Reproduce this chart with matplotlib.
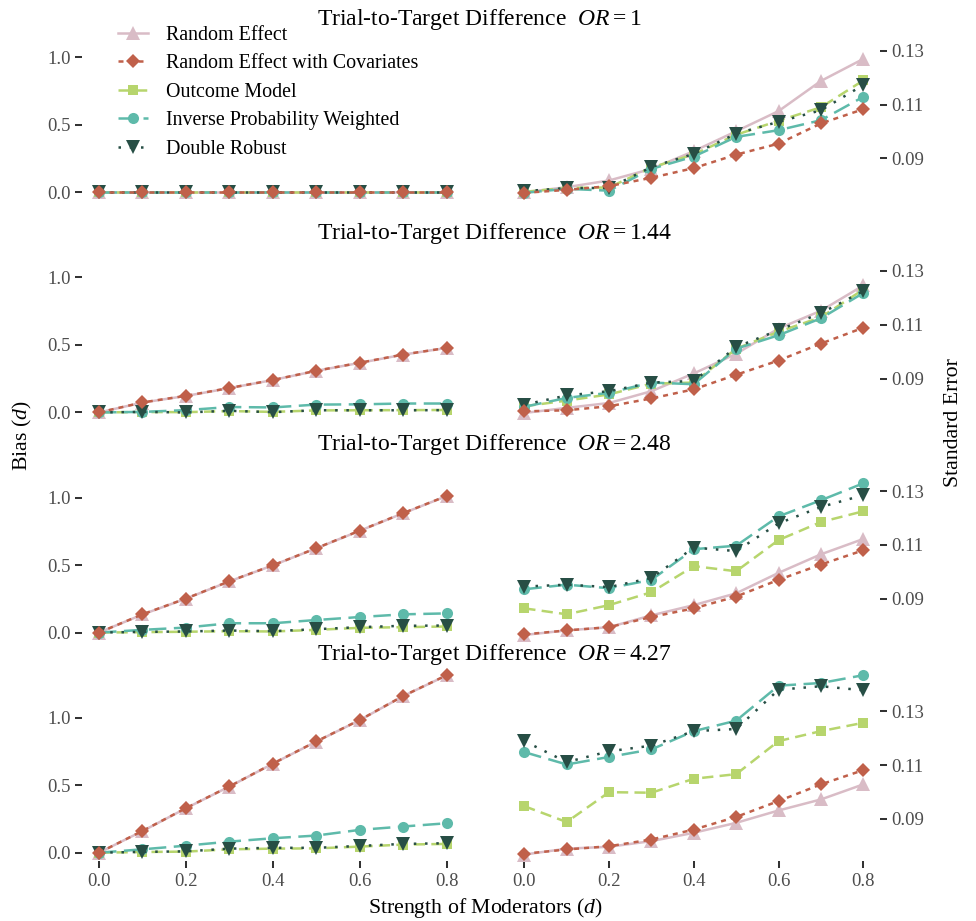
import matplotlib
matplotlib.use('Agg')
import matplotlib.pyplot as plt
import numpy as np

plt.rcParams['font.family'] = ['Liberation Serif', 'DejaVu Serif']
plt.rcParams['mathtext.fontset'] = 'custom'
plt.rcParams['mathtext.rm'] = 'Liberation Serif'
plt.rcParams['mathtext.it'] = 'Liberation Serif:italic'

# moderator strength on the x axis
d = [0.0, 0.1, 0.2, 0.3, 0.4, 0.5, 0.6, 0.7, 0.8]
or_values = ['1', '1.44', '2.48', '4.27']
methods = ['Random Effect', 'Random Effect with Covariates', 'Outcome Model',
           'Inverse Probability Weighted', 'Double Robust']

# bias, one row per trial-to-target OR
bias_re = [[0.0, 0.0, 0.0, 0.0, 0.0, 0.0, 0.0, 0.0, 0.0],
           [0.0, 0.073, 0.122, 0.180, 0.240, 0.308, 0.367, 0.428, 0.478],
           [0.0, 0.134, 0.251, 0.379, 0.498, 0.624, 0.754, 0.884, 1.011],
           [0.0, 0.160, 0.329, 0.490, 0.659, 0.823, 0.982, 1.160, 1.314]]
bias_cov = [[0.0, 0.0, 0.0, 0.0, 0.0, 0.0, 0.0, 0.0, 0.0],
            [0.0, 0.074, 0.123, 0.181, 0.240, 0.309, 0.368, 0.429, 0.478],
            [0.0, 0.135, 0.252, 0.380, 0.498, 0.625, 0.755, 0.885, 1.012],
            [0.0, 0.161, 0.330, 0.491, 0.660, 0.824, 0.983, 1.161, 1.315]]
bias_om = [[0.0, 0.0, 0.0, 0.0, 0.0, 0.0, 0.0, 0.0, 0.0],
           [0.0, 0.003, 0.002, 0.010, 0.004, 0.015, 0.016, 0.017, 0.018],
           [0.0, 0.003, 0.006, 0.010, 0.008, 0.020, 0.035, 0.040, 0.045],
           [0.0, 0.005, 0.008, 0.025, 0.030, 0.032, 0.045, 0.060, 0.065]]
bias_ipw = [[0.0, 0.0, 0.0, 0.0, 0.0, 0.0, 0.0, 0.0, 0.0],
            [0.0, 0.004, 0.017, 0.040, 0.037, 0.058, 0.060, 0.066, 0.066],
            [0.0, 0.020, 0.037, 0.069, 0.069, 0.093, 0.115, 0.135, 0.142],
            [0.0, 0.025, 0.052, 0.082, 0.107, 0.127, 0.169, 0.194, 0.218]]
bias_dr = [[0.0, 0.0, 0.0, 0.0, 0.0, 0.0, 0.0, 0.0, 0.0],
           [0.0, 0.004, 0.0, 0.012, 0.002, 0.016, 0.016, 0.016, 0.017],
           [0.0, 0.005, 0.008, 0.015, 0.010, 0.025, 0.040, 0.050, 0.052],
           [0.0, 0.006, 0.010, 0.030, 0.036, 0.036, 0.050, 0.065, 0.070]]

# standard error, one row per trial-to-target OR
se_re = [[0.0774, 0.0793, 0.0818, 0.0861, 0.0927, 0.1001, 0.1076, 0.1188, 0.1270],
         [0.0772, 0.0791, 0.0809, 0.0853, 0.0919, 0.0992, 0.1086, 0.1152, 0.1246],
         [0.0765, 0.0782, 0.0794, 0.0838, 0.0876, 0.0920, 0.0996, 0.1065, 0.1122],
         [0.0767, 0.0789, 0.0796, 0.0817, 0.0848, 0.0885, 0.0931, 0.0972, 0.1028]]
se_cov = [[0.0772, 0.0783, 0.0797, 0.0828, 0.0864, 0.0914, 0.0955, 0.1030, 0.1083],
          [0.0778, 0.0782, 0.0797, 0.0826, 0.0860, 0.0914, 0.0967, 0.1030, 0.1089],
          [0.0767, 0.0782, 0.0794, 0.0832, 0.0864, 0.0908, 0.0970, 0.1027, 0.1080],
          [0.0770, 0.0786, 0.0798, 0.0823, 0.0860, 0.0907, 0.0966, 0.1028, 0.1081]]
se_om = [[0.0776, 0.0790, 0.0792, 0.0866, 0.0915, 0.0988, 0.1040, 0.1090, 0.1190],
         [0.0797, 0.0818, 0.0841, 0.0881, 0.0885, 0.1011, 0.1074, 0.1128, 0.1231],
         [0.0864, 0.0842, 0.0876, 0.0924, 0.1021, 0.1002, 0.1118, 0.1185, 0.1225],
         [0.0947, 0.0888, 0.0999, 0.0997, 0.1049, 0.1066, 0.1189, 0.1226, 0.1257]]
se_ipw = [[0.0772, 0.0787, 0.0780, 0.0861, 0.0907, 0.0980, 0.1005, 0.1042, 0.1129],
          [0.0795, 0.0828, 0.0847, 0.0885, 0.0879, 0.1011, 0.1061, 0.1124, 0.1218],
          [0.0935, 0.0952, 0.0939, 0.0970, 0.1084, 0.1097, 0.1206, 0.1266, 0.1329],
          [0.1148, 0.1102, 0.1130, 0.1158, 0.1226, 0.1265, 0.1395, 0.1405, 0.1434]]
se_dr = [[0.0778, 0.0790, 0.0790, 0.0868, 0.0917, 0.0992, 0.1036, 0.1079, 0.1173],
         [0.0803, 0.0837, 0.0853, 0.0885, 0.0891, 0.1017, 0.1080, 0.1143, 0.1225],
         [0.0945, 0.0952, 0.0943, 0.0977, 0.1090, 0.1077, 0.1180, 0.1241, 0.1285],
         [0.1189, 0.1111, 0.1151, 0.1172, 0.1226, 0.1234, 0.1380, 0.1393, 0.1378]]

colors = ['#D9BCC6', '#C0604A', '#B7D56D', '#5EBAAA', '#274E45']
markers = ['^', 'D', 's', 'o', 'v']
msizes = [10, 7, 7, 8, 10]
styles = ['-', (0, (2, 2)), (0, (4.5, 2.5)), (0, (7, 3)), (0, (1, 3.5))]
zorders = [2, 6, 3, 4, 5]

bias_all = [bias_re, bias_cov, bias_om, bias_ipw, bias_dr]
se_all = [se_re, se_cov, se_om, se_ipw, se_dr]

# SE axis is a linear rescale of the bias axis
se0, se_k = 0.0774, 0.0502
blim = (-0.065, 1.38)

W, H = 976, 921
fig = plt.figure(figsize=(W / 100, H / 100), dpi=100)

row_gap = 220.13
zero_px = 192.3
px_per = 135.0
top_px = zero_px - blim[1] * px_per
bot_px = zero_px - blim[0] * px_per
title_y = [20, 233.7, 444.7, 654.7]

tick_kw = dict(length=5, width=1.45, color='#333333', labelcolor='#4D4D4D',
               labelsize=13.5, pad=3)

handles = []
for r in range(4):
    b = (bot_px + r * row_gap)
    ax_l = fig.add_axes([81.6 / W, 1 - b / H, (464.1 - 81.6) / W, (bot_px - top_px) / H])
    ax_r = fig.add_axes([507.35 / W, 1 - b / H, (880.25 - 507.35) / W, (bot_px - top_px) / H])

    for m in range(5):
        kw = dict(color=colors[m], marker=markers[m], ms=msizes[m], lw=1.8,
                  linestyle=styles[m], zorder=zorders[m], markeredgewidth=0,
                  label=methods[m])
        ln, = ax_l.plot(d, bias_all[m][r], **kw)
        ax_r.plot(d, se_all[m][r], **kw)
        if r == 0:
            handles.append(ln)

    ax_l.set_xlim(-0.04, 0.84)
    ax_r.set_xlim(-0.04, 0.84)
    ax_l.set_ylim(*blim)
    ax_r.set_ylim(se0 + se_k * blim[0], se0 + se_k * blim[1])

    ax_l.set_yticks([0.0, 0.5, 1.0])
    ax_l.set_yticklabels(['0.0', '0.5', '1.0'])
    ax_r.yaxis.tick_right()
    ax_r.set_yticks([0.09, 0.11, 0.13])
    ax_r.set_yticklabels(['0.09', '0.11', '0.13'])

    for ax in (ax_l, ax_r):
        ax.patch.set_alpha(0)
        for s in ax.spines.values():
            s.set_visible(False)
        ax.tick_params(**tick_kw)
        ax.set_xticks([0.0, 0.2, 0.4, 0.6, 0.8])
        if r == 3:
            ax.set_xticklabels(['0.0', '0.2', '0.4', '0.6', '0.8'])
        else:
            ax.tick_params(axis='x', length=0, labelbottom=False)

    fig.text(316.7 / W, 1 - title_y[r] / H,
             'Trial-to-Target Difference  $\\mathit{OR}{=}' + or_values[r] + '$',
             ha='left', va='center', fontsize=17)

fig.text(22 / W, 1 - 436 / H, 'Bias ($\\mathit{d}$)', rotation=90,
         ha='center', va='center', fontsize=15.7)
fig.text(953 / W, 1 - 423 / H, 'Standard Error', rotation=90,
         ha='center', va='center', fontsize=15.7)
fig.text(485 / W, 1 - 908 / H, 'Strength of Moderators ($\\mathit{d}$)',
         ha='center', va='center', fontsize=15.7)

fig.legend(handles=handles, loc='upper left', bbox_to_anchor=(118 / W, 1 - 26 / H),
           frameon=False, fontsize=14.4, handlelength=1.5, handletextpad=0.9,
           labelspacing=0.47, borderpad=0, borderaxespad=0)

fig.savefig('out.png', dpi=100)
